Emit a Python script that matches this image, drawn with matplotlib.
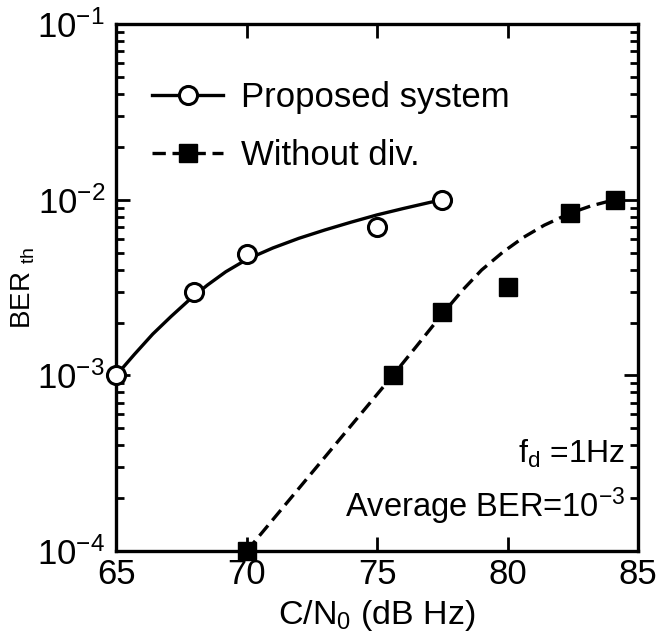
import matplotlib
matplotlib.use("Agg")
import matplotlib.pyplot as plt
from matplotlib.ticker import FixedLocator, NullLocator

plt.rcParams['font.family'] = ['Liberation Sans', 'DejaVu Sans']
plt.rcParams['mathtext.fontset'] = 'custom'
plt.rcParams['mathtext.rm'] = 'Liberation Sans'
plt.rcParams['mathtext.it'] = 'Liberation Sans:italic'
plt.rcParams['mathtext.bf'] = 'Liberation Sans:bold'

# measured points
prop_x = [65, 68, 70, 75, 77.5]
prop_y = [1.0e-3, 3.0e-3, 4.9e-3, 7.0e-3, 1.0e-2]
nodiv_x = [70, 75.6, 77.5, 80, 82.4, 84.1]
nodiv_y = [1.0e-4, 1.0e-3, 2.3e-3, 3.2e-3, 8.4e-3, 1.0e-2]

# fitted curves
prop_cx = [65, 65.7, 66.4, 67.1, 67.8, 68.5, 69.2, 70, 71, 72, 73, 74, 75, 76, 77, 77.5]
prop_cy = [1.0e-3, 1.318e-3, 1.718e-3, 2.163e-3, 2.69e-3, 3.27e-3, 3.89e-3, 4.57e-3,
           5.31e-3, 6.03e-3, 6.73e-3, 7.45e-3, 8.20e-3, 8.91e-3, 9.64e-3, 1.0e-2]
nodiv_cx = [70, 72, 74, 75.6, 76.5, 77.5, 78.3, 79, 79.8, 80.6, 81.4, 82.4, 83.2, 84.1]
nodiv_cy = [1.0e-4, 2.275e-4, 5.18e-4, 1.0e-3, 1.462e-3, 2.239e-3, 3.09e-3, 3.98e-3,
            5.01e-3, 6.10e-3, 7.16e-3, 8.39e-3, 9.23e-3, 1.0e-2]

x_ticks = [65, 70, 75, 80, 85]
y_decades = [-4, -3, -2, -1]

fig = plt.figure(figsize=(6.6, 6.32), dpi=100)
ax = fig.add_axes([0.176, 0.128, 0.791, 0.834])

lw = 2.4
dash = (0, (4.0, 2.0))
ax.plot(prop_cx, prop_cy, color='black', lw=lw, zorder=2)
ax.plot(nodiv_cx, nodiv_cy, color='black', lw=lw, ls=dash, zorder=2)
ax.plot(prop_x, prop_y, ls='none', marker='o', ms=13, mfc='white', mec='black', mew=2.2, zorder=3, clip_on=False)
ax.plot(nodiv_x, nodiv_y, ls='none', marker='s', ms=13, mfc='black', mec='black', zorder=3, clip_on=False)

# legend handles
h1, = ax.plot([], [], color='black', lw=lw, marker='o', ms=13, mfc='white', mec='black', mew=2.2)
h2, = ax.plot([], [], color='black', lw=lw, ls=dash, marker='s', ms=13, mfc='black', mec='black')
ax.legend([h1, h2], ['Proposed system', 'Without div.'], loc='upper left',
          bbox_to_anchor=(0.069, 0.891), frameon=False, fontsize=25,
          handlelength=2.05, handletextpad=0.5, labelspacing=0.7,
          borderpad=0, borderaxespad=0)

ax.set_yscale('log')
ax.set_xlim(65, 85)
ax.set_ylim(1e-4, 1e-1)
ax.xaxis.set_major_locator(FixedLocator(x_ticks))
ax.xaxis.set_minor_locator(NullLocator())
ax.yaxis.set_major_locator(FixedLocator([10.0 ** e for e in y_decades]))
ax.yaxis.set_minor_locator(FixedLocator([k * 10.0 ** e for e in y_decades[:-1] for k in range(2, 10)]))

ax.tick_params(which='both', direction='in', top=True, right=True, width=2)
ax.tick_params(which='major', length=10, labelsize=25)
ax.tick_params(which='minor', length=6)
ax.tick_params(axis='y', which='major', pad=8)
ax.tick_params(axis='x', which='major', pad=5)
for s in ax.spines.values():
    s.set_linewidth(2.4)

ax.set_xlabel('C/N$_{\\rm 0}$ (dB Hz)', fontsize=24.5, labelpad=5)
ax.set_ylabel('BER $_{\\rm th}$', fontsize=20)
ax.yaxis.set_label_coords(-0.152, 0.5)

ax.text(0.975, 0.167, 'f$_{\\rm d}$ =1Hz', transform=ax.transAxes, ha='right', va='baseline', fontsize=23)
ax.text(0.975, 0.0645, 'Average BER=10$^{-3}$', transform=ax.transAxes, ha='right', va='baseline', fontsize=23.5)

fig.savefig('out.png', dpi=100)
